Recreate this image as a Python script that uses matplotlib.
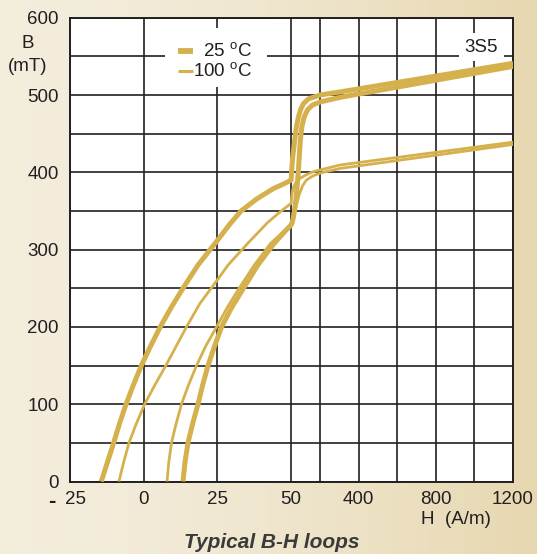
import numpy as np
import matplotlib

matplotlib.use("Agg")
import matplotlib.pyplot as plt
from matplotlib.patches import Rectangle
from matplotlib.transforms import ScaledTranslation

# ---------------------------------------------------------------
# Данные (H в A/m, B в mT)
# ---------------------------------------------------------------

# 25 °C, нисходящая ветвь (верхняя)
h_25_down = [1200, 304, 200, 140, 114, 100, 88, 78, 70, 63, 57, 53, 50,
             47.5, 44, 38.5, 33, 29, 25, 18.4, 13.3, 9.3, 5.6, 2.3, -0.8,
             -3.5, -6.0, -8.2, -10.2, -12.3, -14.4]
b_25_down = [541, 504, 500, 495, 489, 482, 472, 460, 445, 430, 418, 404, 390,
             385, 379, 366, 350, 332, 312, 280, 250, 225, 200, 175, 150,
             125, 100, 75, 50, 25, 0]

# 25 °C, восходящая ветвь (нижняя)
h_25_up = [13.3, 14, 15, 16.6, 18.4, 20, 21.8, 24, 26.4, 29.8, 33.5, 38.7,
           44, 47.5, 50, 55, 60, 67, 75, 82, 88, 93, 98, 106, 118, 135, 160,
           200, 304, 1200]
b_25_up = [0, 25, 50, 75, 100, 125, 150, 175, 200, 225, 248, 280,
           307, 322, 332, 335, 340, 350, 366, 385, 405, 425, 443, 460, 472, 481, 487,
           491, 497, 537]

# 100 °C, нисходящая ветвь
h_100_down = [1200, 304, 167, 130, 94, 72, 62, 56, 52, 50, 46, 42, 35, 28.6,
              25, 19, 14.5, 11, 7.5, 3.8, 0.3, -2.5, -5, -6.8, -8.4]
b_100_down = [439, 409.5, 401, 397, 392, 386, 381, 375, 367, 360, 348, 335, 307, 280,
              261, 230, 200, 175, 150, 125, 100, 75, 50, 25, 0]

# 100 °C, восходящая ветвь
h_100_up = [7.9, 8.5, 9.4, 11, 12.8, 15.2, 17.9, 21, 24.7, 28.3, 32, 37.5,
            43, 47, 49.5, 55, 65, 75, 85, 94, 110, 129, 160, 200, 304, 1200]
b_100_up = [0, 25, 50, 75, 100, 125, 150, 175, 200, 225, 248, 280,
            308, 322, 331, 338, 346, 355, 365, 373, 383, 390, 395, 399, 405, 436]

# Оси
x_ticks = [-25, 0, 25, 50, 200, 400, 600, 800, 1000, 1200]
x_labels = ["25", "0", "25", "50", "", "400", "", "800", "", "1200"]
y_ticks = list(range(0, 601, 50))
y_labels = [str(v) if v % 100 == 0 else "" for v in y_ticks]

legend_labels = ["25 $^{\\rm o}$C", "100 $^{\\rm o}$C"]
material = "3S5"

# ---------------------------------------------------------------
# Оформление
# ---------------------------------------------------------------
GOLD = "#D5B14E"
GRID = "#231F20"
TEXT = "#231F20"
FONT = "Liberation Sans"

# Ломаная шкала H: линейно до 50, дальше сжатая
K = 0.0654


def fwd(h):
    h = np.asarray(h, dtype=float)
    return np.where(h <= 50, h, 50 + (h - 50) * K)


def inv(u):
    u = np.asarray(u, dtype=float)
    return np.where(u <= 50, u, 50 + (u - 50) / K)


def ax_xy(px, py):
    # пиксели картинки -> доли осей
    return (px - 70) / 443, (481.5 - py) / 463.8


plt.rcParams["font.family"] = [FONT, "DejaVu Sans"]
plt.rcParams["mathtext.fontset"] = "custom"
plt.rcParams["mathtext.rm"] = FONT
plt.rcParams["mathtext.it"] = FONT + ":italic"
plt.rcParams["mathtext.bf"] = FONT + ":bold"

fig = plt.figure(figsize=(5.37, 5.54), dpi=100)

# фон — бежевый градиент
bg = fig.add_axes([0, 0, 1, 1], zorder=-10)
c_left = np.array([0.955, 0.93, 0.865])
c_right = np.array([0.905, 0.845, 0.69])
t = np.linspace(0, 1, 256)[None, :, None]
grad = c_left + (c_right - c_left) * t ** 1.6
grad = np.repeat(grad, 4, axis=0)
bg.imshow(grad, aspect="auto", extent=[0, 1, 0, 1])
bg.axis("off")

ax = fig.add_axes([70 / 537, 1 - 481.5 / 554, 443 / 537, 463.8 / 554])
ax.set_facecolor("white")
ax.set_xscale("function", functions=(fwd, inv))
ax.set_xlim(-25, 1200)
ax.set_ylim(0, 600)

ax.set_xticks(x_ticks)
ax.set_xticklabels(x_labels)
ax.set_yticks(y_ticks)
ax.set_yticklabels(y_labels)
ax.minorticks_off()
ax.tick_params(axis="both", length=0, labelsize=13.5, colors=TEXT)
ax.tick_params(axis="x", pad=7)
ax.tick_params(axis="y", pad=8)
ax.grid(True, color=GRID, lw=1.2)
ax.set_axisbelow(True)
for sp in ax.spines.values():
    sp.set_color(GRID)
    sp.set_linewidth(1.4)

# "25" под -25 чуть правее, слева жирный минус
lab0 = ax.get_xticklabels()[0]
lab0.set_transform(lab0.get_transform() + ScaledTranslation(0.05, 0, fig.dpi_scale_trans))
ax.annotate("-", xy=(-25, 0), xycoords=("data", "axes fraction"),
            xytext=(-13, -14.5), textcoords="offset points", ha="center", va="center",
            fontsize=16, fontweight="bold", color=TEXT)

line_kw = dict(color=GOLD, solid_joinstyle="round", solid_capstyle="butt", zorder=3)
ax.plot(h_25_down, b_25_down, lw=3.6, **line_kw)
ax.plot(h_25_up, b_25_up, lw=3.6, **line_kw)
ax.plot(h_100_down, b_100_down, lw=2.0, **line_kw)
ax.plot(h_100_up, b_100_up, lw=2.0, **line_kw)

# легенда вручную: белая плашка, образцы линий, подписи по правому краю
x0, y0 = ax_xy(165, 87)
x1, y1 = ax_xy(267, 28)
ax.add_patch(Rectangle((x0, y0), x1 - x0, y1 - y0, transform=ax.transAxes,
                       facecolor="white", edgecolor="none", zorder=5))
for (py, lw, label) in [(50.5, 4.2, legend_labels[0]), (71, 2.2, legend_labels[1])]:
    sx0, sy = ax_xy(178, py)
    sx1, _ = ax_xy(193, py)
    ax.plot([sx0, sx1], [sy, sy], transform=ax.transAxes, color=GOLD, lw=lw,
            solid_capstyle="butt", zorder=6, clip_on=False)
    tx, ty = ax_xy(252, py)
    ax.text(tx, ty, label, transform=ax.transAxes, ha="right", va="center",
            fontsize=13.5, color=TEXT, zorder=6)

ax.text(0.966, 0.955, material, transform=ax.transAxes, ha="right", va="top",
        fontsize=13.5, color=TEXT, zorder=6,
        bbox=dict(facecolor="white", edgecolor="none", pad=4))

fig.text(456 / 537, 1 - 519 / 554, "H  (A/m)", ha="center", va="center", fontsize=13.5, color=TEXT)
fig.text(28 / 537, 1 - 43 / 554, "B", ha="center", va="center", fontsize=13.5, color=TEXT)
fig.text(28 / 537, 1 - 67 / 554, "(mT)", ha="center", va="center", fontsize=13.5, color=TEXT)
fig.text(272 / 537, 1 - 542 / 554, "Typical B-H loops", ha="center", va="center",
         fontsize=15, fontweight="bold", fontstyle="italic", color="#3A3A3A")

fig.savefig("out.png", dpi=100)
